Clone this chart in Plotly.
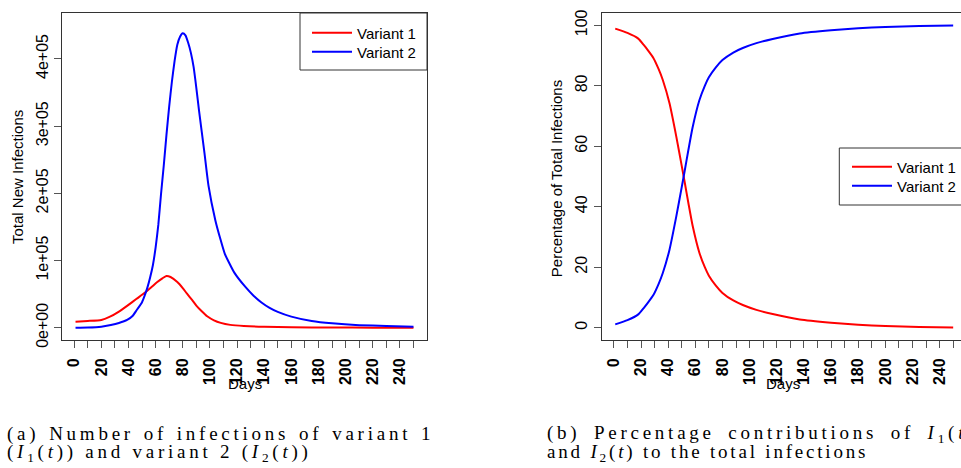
import plotly.graph_objects as go

W, H = 961, 468

# ---------------- data ----------------
# (a) Total new infections
days_v1_a = [1, 10, 20, 26, 33, 39, 46, 52, 57, 61, 65, 68, 71, 76, 80, 83, 87, 90, 94,
             98, 103, 108, 115, 125, 140, 160, 190, 220, 250]
variant1_new = [9000, 10000, 11500, 16000, 24000, 32500, 43000, 52000, 60500, 67500,
                73500, 77000, 75500, 68000, 59000, 51000, 41000, 33000, 24500, 17000,
                11000, 7200, 4200, 2500, 1300, 600, 200, 80, 30]
days_v2_a = [1, 10, 20, 27, 33, 39, 43, 46, 50, 52, 54, 56, 58, 60, 62, 64, 66, 68, 70,
             72, 74, 76, 78, 80, 82, 84, 86, 88, 90, 92, 96, 99, 104, 108, 111, 118, 126,
             132, 138, 144, 150, 160, 175, 190, 210, 230, 250]
variant2_new = [0, 300, 1500, 4000, 7000, 11500, 17500, 26000, 38000, 48000, 60000,
                75000, 93000, 119000, 153000, 199000, 241000, 287000, 329000, 366000,
                397000, 421000, 433000, 438000, 435000, 424000, 409000, 388000, 357000,
                323000, 260000, 211000, 160000, 130000, 110000, 82000, 61000, 48000,
                37500, 29500, 23500, 16500, 10000, 6500, 3800, 2500, 1500]

# (b) Percentage of total infections
days_b = [1, 10, 18, 22, 25, 29, 33, 36, 41, 46, 50, 52, 55, 58, 63, 67, 70, 75, 80,
          88, 95, 105, 117, 137, 160, 180, 200, 225, 250]
variant1_pct = [98.9, 97.5, 95.6, 93.5, 91.8, 89.3, 85.5, 82.0, 74.2, 63.2, 53.5, 48.6,
                41.0, 33.8, 24.8, 20.0, 17.2, 14.0, 11.5, 9.0, 7.5, 5.9, 4.5, 2.7, 1.65,
                1.0, 0.55, 0.25, 0.1]
variant2_pct = [1.1, 2.5, 4.4, 6.5, 8.2, 10.7, 14.5, 18.0, 25.8, 36.8, 46.5, 51.4,
                59.0, 66.2, 75.2, 80.0, 82.8, 86.0, 88.5, 91.0, 92.5, 94.1, 95.5, 97.3,
                98.35, 99.0, 99.45, 99.75, 99.9]

x_tickvals = list(range(0, 251, 10))
x_ticktext = [str(v) if v % 20 == 0 and v <= 240 else "" for v in x_tickvals]
ya_tickvals = [0, 100000, 200000, 300000, 400000]
ya_ticktext = ["0e+00", "1e+05", "2e+05", "3e+05", "4e+05"]
yb_tickvals = [0, 20, 40, 60, 80, 100]
yb_ticktext = ["0", "20", "40", "60", "80", "100"]

names = ["Variant 1", "Variant 2"]
colors = ["#FF0000", "#0000FF"]

# ---------------- helpers ----------------
def px(x):
    return x / W

def py(y):
    return 1 - y / H

SANS = "Liberation Sans, Arial, sans-serif"
SERIF = "Liberation Serif, Times New Roman, serif"

fig = go.Figure()
series_a = [(days_v1_a, variant1_new), (days_v2_a, variant2_new)]
series_b = [(days_b, variant1_pct), (days_b, variant2_pct)]
for i, (nm, col, (dx, vals)) in enumerate(zip(names, colors, series_a)):
    fig.add_trace(go.Scatter(x=dx, y=vals, mode="lines", name=nm,
                             line=dict(color=col, width=2, shape="spline", smoothing=0.5),
                             xaxis="x", yaxis="y", legend="legend" if i == 0 else "legend2"))
for i, (nm, col, (dx, vals)) in enumerate(zip(names, colors, series_b)):
    fig.add_trace(go.Scatter(x=dx, y=vals, mode="lines", name=nm,
                             line=dict(color=col, width=2, shape="spline", smoothing=0.5),
                             xaxis="x2", yaxis="y2", legend="legend3" if i == 0 else "legend4"))

axcommon = dict(showgrid=False, zeroline=False, ticks="outside", ticklen=7,
                tickcolor="#555555", tickwidth=1, linecolor="#333333", linewidth=1,
                showline=True)

xfont = dict(family=SANS, size=16, color="black", weight="bold")
yfont = dict(family=SANS, size=16, color="black")

def leg(x, y):
    return dict(x=px(x), y=py(y), xanchor="left", yanchor="middle",
                bgcolor="rgba(0,0,0,0)", borderwidth=0, itemwidth=40,
                font=dict(family=SANS, size=15, color="black"))

fig.update_layout(
    width=W, height=H,
    margin=dict(l=0, r=0, t=0, b=0, autoexpand=False),
    paper_bgcolor="white", plot_bgcolor="white",
    showlegend=True,
    xaxis=dict(domain=[px(62), px(427)], range=[-8.96, 259.96], tickvals=x_tickvals,
               ticktext=x_ticktext, tickangle=-90, tickfont=xfont, mirror=True,
               anchor="y", ticklabelstandoff=4, **axcommon),
    yaxis=dict(domain=[py(340), py(13)], range=[-18300, 468300], tickvals=ya_tickvals,
               ticktext=ya_ticktext, tickangle=-90, tickfont=yfont, mirror=True,
               anchor="x", **axcommon),
    xaxis2=dict(domain=[px(601.7), 1.0], range=[-8.96, 255.76], tickvals=x_tickvals,
                ticktext=x_ticktext, tickangle=-90, tickfont=xfont, mirror=True,
                anchor="y2", ticklabelstandoff=4, **axcommon),
    yaxis2=dict(domain=[py(340), py(13)], range=[-4.07, 104.07], tickvals=yb_tickvals,
                ticktext=yb_ticktext, tickangle=-90, tickfont=yfont, mirror=False,
                anchor="x2", **axcommon),
    legend=leg(307, 33),
    legend2=leg(307, 52),
    legend3=leg(847, 167),
    legend4=leg(847, 186),
)

# legend frames
fig.add_shape(type="rect", xref="paper", yref="paper", x0=px(300), x1=px(427),
              y0=py(70), y1=py(13), line=dict(color="#333333", width=1))
fig.add_shape(type="rect", xref="paper", yref="paper", x0=px(839.3), x1=px(975),
              y0=py(205), y1=py(148), line=dict(color="#333333", width=1))

# axis titles
def ann(text, x, y, size=15, angle=0, family=SANS, xanchor="center", yanchor="middle"):
    fig.add_annotation(text=text, xref="paper", yref="paper", x=px(x), y=py(y),
                       showarrow=False, textangle=angle, xanchor=xanchor, yanchor=yanchor,
                       font=dict(family=family, size=size, color="black"))

ann("Total New Infections", 17, 177, angle=-90)
ann("Percentage of Total Infections", 556.7, 178.5, angle=-90)
ann("Days", 245, 383)
ann("Days", 783, 383)

# captions
cap_a1 = "(a) Number of infections of variant 1"
cap_a2 = "(<i>I</i><sub>1</sub>(<i>t</i>)) and variant 2 (<i>I</i><sub>2</sub>(<i>t</i>))"
cap_b1 = "(b) Percentage contributions of <i>I</i><sub>1</sub>(<i>t</i>)"
cap_b2 = "and <i>I</i><sub>2</sub>(<i>t</i>) to the total infections"
for txt, x, y, st in [(cap_a1, 5, 434, "letter-spacing:3.75px;word-spacing:1.3px"),
                      (cap_a2, 5, 453, "letter-spacing:3.75px"),
                      (cap_b1, 545, 434, "letter-spacing:3.75px;word-spacing:5px"),
                      (cap_b2, 545, 453, "letter-spacing:2.8px")]:
    ann('<span style="%s">%s</span>' % (st, txt), x, y, size=19, family=SERIF,
        xanchor="left")

fig.write_html("out.html", config={"displayModeBar": False},
               post_script="document.body.style.margin='0';")
